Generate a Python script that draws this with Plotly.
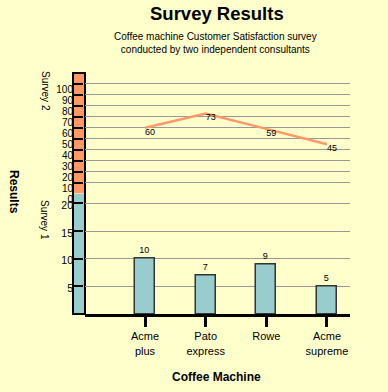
import plotly.graph_objects as go

categories = ["Acme plus", "Pato express", "Rowe", "Acme supreme"]
tick_labels = ["Acme<br>plus", "Pato<br>express", "Rowe", "Acme<br>supreme"]
survey1 = [10, 7, 9, 5]
survey2 = [60, 73, 59, 45]
survey1_ticks = [5, 10, 15, 20]
survey2_ticks = [0, 10, 20, 30, 40, 50, 60, 70, 80, 90, 100]

FONT = "Liberation Sans, Arial, sans-serif"
BG = "#FFFFCC"
ORANGE = "#FF9966"
BLUE = "#99CCCC"
GRID = "#999999"

W, H = 388, 392
ML, MR, MT, MB = 73, 38, 73, 78
pw = W - ML - MR
ph = H - MT - MB
xd0 = 12 / pw


def px_x(x):
    return (x - ML) / pw


def px_y(y):
    return (H - MB - y) / ph


fig = go.Figure()

fig.add_trace(go.Bar(
    x=categories, y=survey1, xaxis="x", yaxis="y",
    width=0.33, marker=dict(color=BLUE, line=dict(color="#333333", width=1.5)),
    text=[str(v) for v in survey1], textposition="outside",
    textfont=dict(size=9, color="black", family=FONT), cliponaxis=False,
    showlegend=False,
))
fig.add_trace(go.Scatter(
    x=categories, y=survey2, xaxis="x2", yaxis="y2",
    mode="lines+text", line=dict(color=ORANGE, width=2.5),
    text=[str(v) for v in survey2], textposition="bottom right",
    textfont=dict(size=9, color="black", family=FONT), cliponaxis=False,
    showlegend=False,
))

xr = [-0.99, 3.38]
fig.update_layout(
    width=W, height=H,
    margin=dict(l=ML, r=MR, t=MT, b=MB, autoexpand=False),
    paper_bgcolor=BG, plot_bgcolor=BG,
    font=dict(family=FONT, color="black", size=11),
    bargap=0,
    xaxis=dict(domain=[xd0, 1], anchor="y", range=xr, type="category",
               tickmode="array", tickvals=categories, ticktext=tick_labels,
               ticks="outside", ticklen=10, tickwidth=2.5, tickcolor="black",
               showline=True, linewidth=3, linecolor="black", showgrid=False,
               tickfont=dict(size=11), ticklabelstandoff=0),
    xaxis2=dict(domain=[xd0, 1], anchor="y2", range=xr, type="category",
                matches="x", visible=False),
    yaxis=dict(domain=[0, 0.5], anchor="free", position=0, range=[0, 21.8],
               tickmode="array", tickvals=survey1_ticks,
               ticks="inside", ticklen=9, tickwidth=2, tickcolor="black",
               showgrid=True, gridcolor=GRID, gridwidth=1, zeroline=False,
               showline=False, tickfont=dict(size=10.5), ticklabelshift=2),
    yaxis2=dict(domain=[0.5, 1], anchor="free", position=0, range=[0, 110],
                tickmode="array", tickvals=survey2_ticks,
                ticks="inside", ticklen=9, tickwidth=2, tickcolor="black",
                showgrid=True, gridcolor=GRID, gridwidth=1, zeroline=False,
                showline=False, tickfont=dict(size=10), ticklabelshift=6),
    shapes=[
        dict(type="rect", xref="paper", yref="y2", x0=0, x1=xd0, y0=0, y1=110,
             fillcolor=ORANGE, line=dict(width=0), layer="below"),
        dict(type="rect", xref="paper", yref="y", x0=0, x1=xd0, y0=0, y1=21.8,
             fillcolor=BLUE, line=dict(width=0), layer="below"),
        dict(type="rect", xref="paper", yref="paper", x0=0, x1=xd0, y0=0, y1=1,
             fillcolor="rgba(0,0,0,0)", line=dict(color="black", width=2), layer="below"),
    ],
    annotations=[
        dict(text="<b>Survey Results</b>", xref="paper", yref="paper",
             x=px_x(216.5), y=px_y(13), showarrow=False,
             font=dict(size=18.5), xanchor="center", yanchor="middle"),
        dict(text="Coffee machine Customer Satisfaction survey<br>conducted by two independent consultants",
             xref="paper", yref="paper", x=px_x(215), y=px_y(43),
             showarrow=False, font=dict(size=10), xanchor="center", yanchor="middle"),
        dict(text="<b>Coffee Machine</b>", xref="paper", yref="paper",
             x=px_x(216), y=px_y(377), showarrow=False,
             font=dict(size=12), xanchor="center", yanchor="middle"),
        dict(text="<b>Results</b>", xref="paper", yref="paper",
             x=px_x(14), y=px_y(192), showarrow=False,
             font=dict(size=12), textangle=90, xanchor="center", yanchor="middle"),
        dict(text="Survey 2", xref="paper", yref="paper",
             x=px_x(45), y=px_y(91), showarrow=False,
             font=dict(size=10), textangle=90, xanchor="center", yanchor="middle"),
        dict(text="Survey 1", xref="paper", yref="paper",
             x=px_x(45), y=px_y(220), showarrow=False,
             font=dict(size=10), textangle=90, xanchor="center", yanchor="middle"),
    ],
)

fig.write_html("out.html", config={"displayModeBar": False},
               post_script="document.body.style.margin='0px';")
